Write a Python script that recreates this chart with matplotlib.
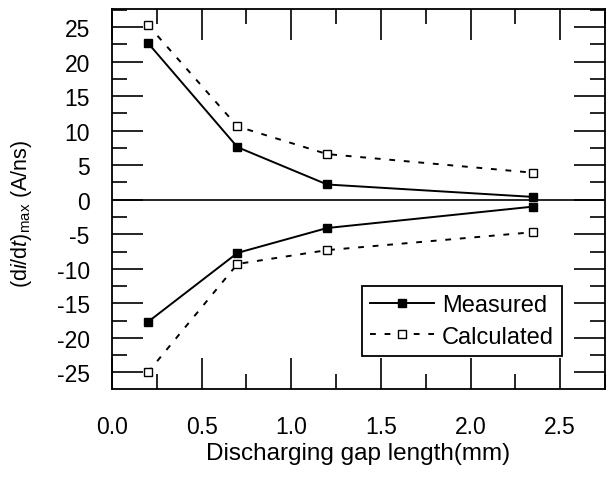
import matplotlib
matplotlib.use('Agg')
import matplotlib.pyplot as plt
from matplotlib.ticker import MultipleLocator

# gap length (mm)
gap = [0.2, 0.7, 1.2, 2.35]

# (di/dt)max, A/ns
meas_pos = [22.7, 7.6, 2.2, 0.4]
meas_neg = [-17.7, -7.7, -4.1, -1.0]
calc_pos = [25.3, 10.6, 6.6, 3.9]
calc_neg = [-25.0, -9.3, -7.3, -4.7]

plt.rcParams['font.family'] = 'Liberation Sans'
plt.rcParams['mathtext.fontset'] = 'custom'
plt.rcParams['mathtext.rm'] = 'Liberation Sans'
plt.rcParams['mathtext.it'] = 'Liberation Sans:italic'
plt.rcParams['axes.unicode_minus'] = False
plt.rcParams['font.size'] = 16.5

fig = plt.figure(figsize=(6.08, 4.85), dpi=100)
ax = fig.add_axes([112 / 608, 1 - 390 / 485, (605 - 112) / 608, 380 / 485])

ax.plot(gap, meas_pos, 'k-', marker='s', ms=5.5, lw=1.4, label='Measured')
ax.plot(gap, meas_neg, 'k-', marker='s', ms=5.5, lw=1.4)
ax.plot(gap, calc_pos, 'k', ls=(0, (3, 4.5)), marker='s', ms=5.5, mfc='white',
        lw=1.4, label='Calculated')
ax.plot(gap, calc_neg, 'k', ls=(0, (3, 4.5)), marker='s', ms=5.5, mfc='white',
        lw=1.4)
ax.axhline(0, color='k', lw=1.2)

ax.set_xlim(0, 2.75)
ax.set_ylim(-27.4, 27.6)
ax.xaxis.set_major_locator(MultipleLocator(0.5))
ax.xaxis.set_minor_locator(MultipleLocator(0.25))
ax.yaxis.set_major_locator(MultipleLocator(5))
ax.yaxis.set_minor_locator(MultipleLocator(2.5))
ax.xaxis.set_major_formatter(matplotlib.ticker.FormatStrFormatter('%.1f'))
ax.tick_params(which='both', direction='in', top=True, right=True, width=1.2)
ax.tick_params(which='major', length=22)
ax.tick_params(which='minor', length=11)
ax.tick_params(axis='y', which='major', pad=16)
ax.tick_params(axis='x', which='major', pad=19)
for s in ax.spines.values():
    s.set_linewidth(1.3)

ax.set_xlabel('Discharging gap length(mm)', fontsize=17.5)
ax.xaxis.set_label_coords(0.5, -0.14)
ax.set_ylabel(r'(d$\it{i}$/d$\it{t}$)$_{\rm max}$ (A/ns)', fontsize=15.5)
ax.yaxis.set_label_coords(-0.158, 0.463)

leg = ax.legend(loc='lower right', bbox_to_anchor=(0.913, 0.087),
                fancybox=False, edgecolor='k', framealpha=1, fontsize=17,
                handlelength=2.7, handletextpad=0.35, borderpad=0.35,
                labelspacing=0.4, borderaxespad=0)
leg.get_frame().set_linewidth(1.3)

fig.savefig('out.png', dpi=100)
